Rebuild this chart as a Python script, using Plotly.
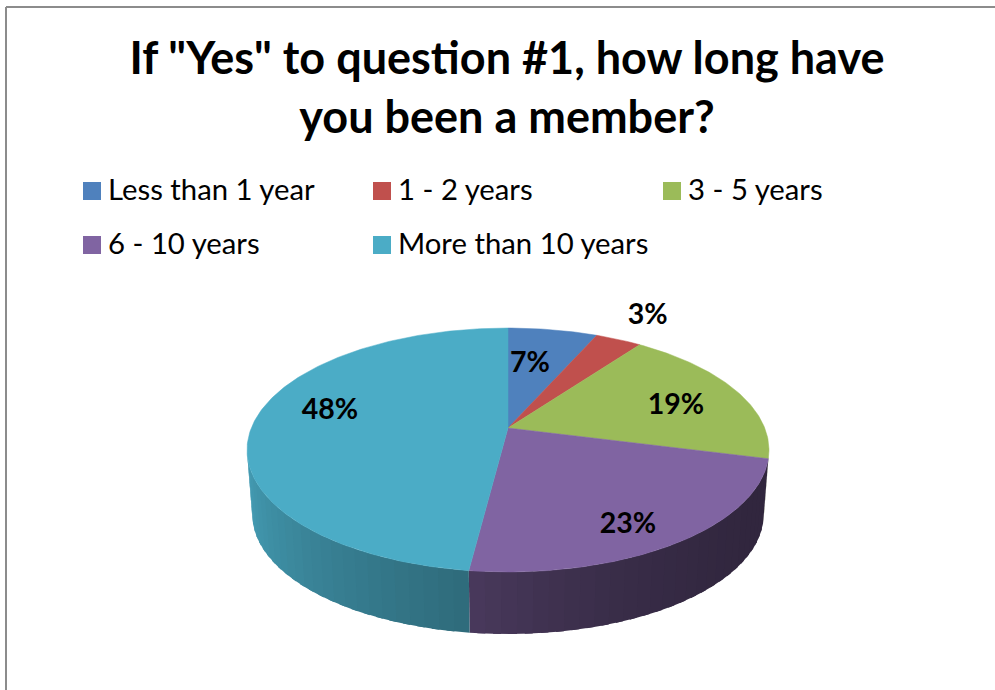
import numpy as np
import plotly.graph_objects as go

# ---- data ----
categories = ["Less than 1 year", "1 - 2 years", "3 - 5 years", "6 - 10 years", "More than 10 years"]
values = [6.6, 3.4, 19, 23, 48]
title_lines = ['If "Yes" to question #1, how long have', "you been a member?"]

# ---- style ----
colors = ["#4F81BD", "#C0504D", "#9BBB59", "#8064A2", "#4BACC6"]
FONT = "Lato"
W, H = 995, 690
CX, CY = 508, 428          # pie apex in page pixels
A, B, K = 256.7, 118.0, 0.1803  # projection of the tilted disc
WALL_DROP, WALL_SCALE = 65, 0.98
wall_shade = [(0.5, 0.5), (0.5, 0.5), (0.5, 0.5), (0.38, 0.57), (0.62, 0.92)]
wall_gamma = [1, 1, 1, 2.5, 1]
label_r = [0.64, 1.355, 0.7155, 0.8075, 0.7363]
label_dtheta = [-3.3, -0.7, 1.8, 3.8, 10.1]
LABEL_NUDGE = 3.5
LEGEND_TEXT_NUDGE = 2
legend_cols = [92, 382, 672]
legend_rows = [191, 245]


def project(theta_deg, r=1.0, scale=1.0, drop=0.0):
    t = np.radians(theta_deg)
    u, v = r * np.sin(t), r * np.cos(t)
    w = 1 + K * v
    return CX + scale * A * u / w, CY + drop - scale * B * v / w


def shade(hex_color, f):
    rgb = [int(hex_color[i:i + 2], 16) for i in (1, 3, 5)]
    return "rgb({},{},{})".format(*[int(round(c * f)) for c in rgb])


cum = np.cumsum([0] + values) / sum(values) * 360.0
fig = go.Figure()
VIS_START, VIS_END = 100.4, 259.6
BAND = 3.0

# side wall, in overlapping bands so it carries the shading gradient
for i, cat in enumerate(categories):
    a0, a1 = max(cum[i], VIS_START), min(cum[i + 1], VIS_END)
    if a1 <= a0:
        continue
    n = int(np.ceil((a1 - a0) / BAND))
    f0, f1 = wall_shade[i]
    for j in range(n):
        s = a0 + (a1 - a0) * j / n
        th = np.linspace(s, a1 if j == n - 1 else s + (a1 - a0) / n + 1.5, 5)
        xt, yt = project(th)
        xb, yb = project(th[::-1], scale=WALL_SCALE, drop=WALL_DROP)
        c = shade(colors[i], f0 + (f1 - f0) * ((j + 0.5) / n) ** wall_gamma[i])
        fig.add_trace(go.Scatter(
            x=np.r_[xt, xb], y=np.r_[yt, yb], mode="lines", fill="toself",
            fillcolor=c, line=dict(color=c, width=0), name=cat,
            showlegend=False, hoverinfo="skip"))

# top faces
for i, cat in enumerate(categories):
    th = np.linspace(cum[i], cum[i + 1], max(6, int(values[i] * 4)))
    xr, yr = project(th)
    fig.add_trace(go.Scatter(
        x=np.r_[CX, xr, CX], y=np.r_[CY, yr, CY], mode="lines", fill="toself",
        fillcolor=colors[i], line=dict(color=colors[i], width=0.5), name=cat,
        showlegend=False, hoverinfo="name"))

# percent labels
mid = (cum[:-1] + cum[1:]) / 2 + np.array(label_dtheta)
lx, ly = project(mid, r=np.array(label_r))
fig.add_trace(go.Scatter(
    x=lx, y=ly + LABEL_NUDGE, mode="text", text=[f"{v:.0f}%" for v in values],
    textposition="middle center", showlegend=False, hoverinfo="skip",
    textfont=dict(family=FONT, size=28.5, color="#000000", weight="bold")))

# legend swatches and entries
sx, sy = [], []
for i in range(len(categories)):
    sx.append(legend_cols[i % 3])
    sy.append(legend_rows[i // 3])
fig.add_trace(go.Scatter(
    x=sx, y=sy, mode="markers", showlegend=False, hoverinfo="skip",
    marker=dict(symbol="square", size=18, color=colors, line=dict(width=0))))
fig.add_trace(go.Scatter(
    x=[s + 16 for s in sx], y=[s + LEGEND_TEXT_NUDGE for s in sy], mode="text", text=categories,
    textposition="middle right", showlegend=False, hoverinfo="skip",
    textfont=dict(family=FONT, size=29.3, color="#000000")))

fig.update_layout(
    width=W, height=H, autosize=False,
    margin=dict(l=0, r=0, t=0, b=0),
    paper_bgcolor="white", plot_bgcolor="white",
    showlegend=False,
    xaxis=dict(range=[0, W], visible=False, fixedrange=True),
    yaxis=dict(range=[H, 0], visible=False, fixedrange=True),
    title=dict(
        text="<br>".join(title_lines), x=507 / W, xanchor="center",
        y=1 - 74 / H, yanchor="top",
        font=dict(family=FONT, size=45, color="#000000", weight="bold")),
    shapes=[
        dict(type="line", xref="x", yref="y", x0=6, x1=W, y0=7, y1=7,
             line=dict(color="#8c8c8c", width=2)),
        dict(type="line", xref="x", yref="y", x0=6, x1=6, y0=7, y1=H,
             line=dict(color="#8c8c8c", width=2)),
    ],
)
fig.write_html("out.html", config={"displayModeBar": False},
               post_script="document.body.style.margin='0';document.body.style.overflow='hidden';")
